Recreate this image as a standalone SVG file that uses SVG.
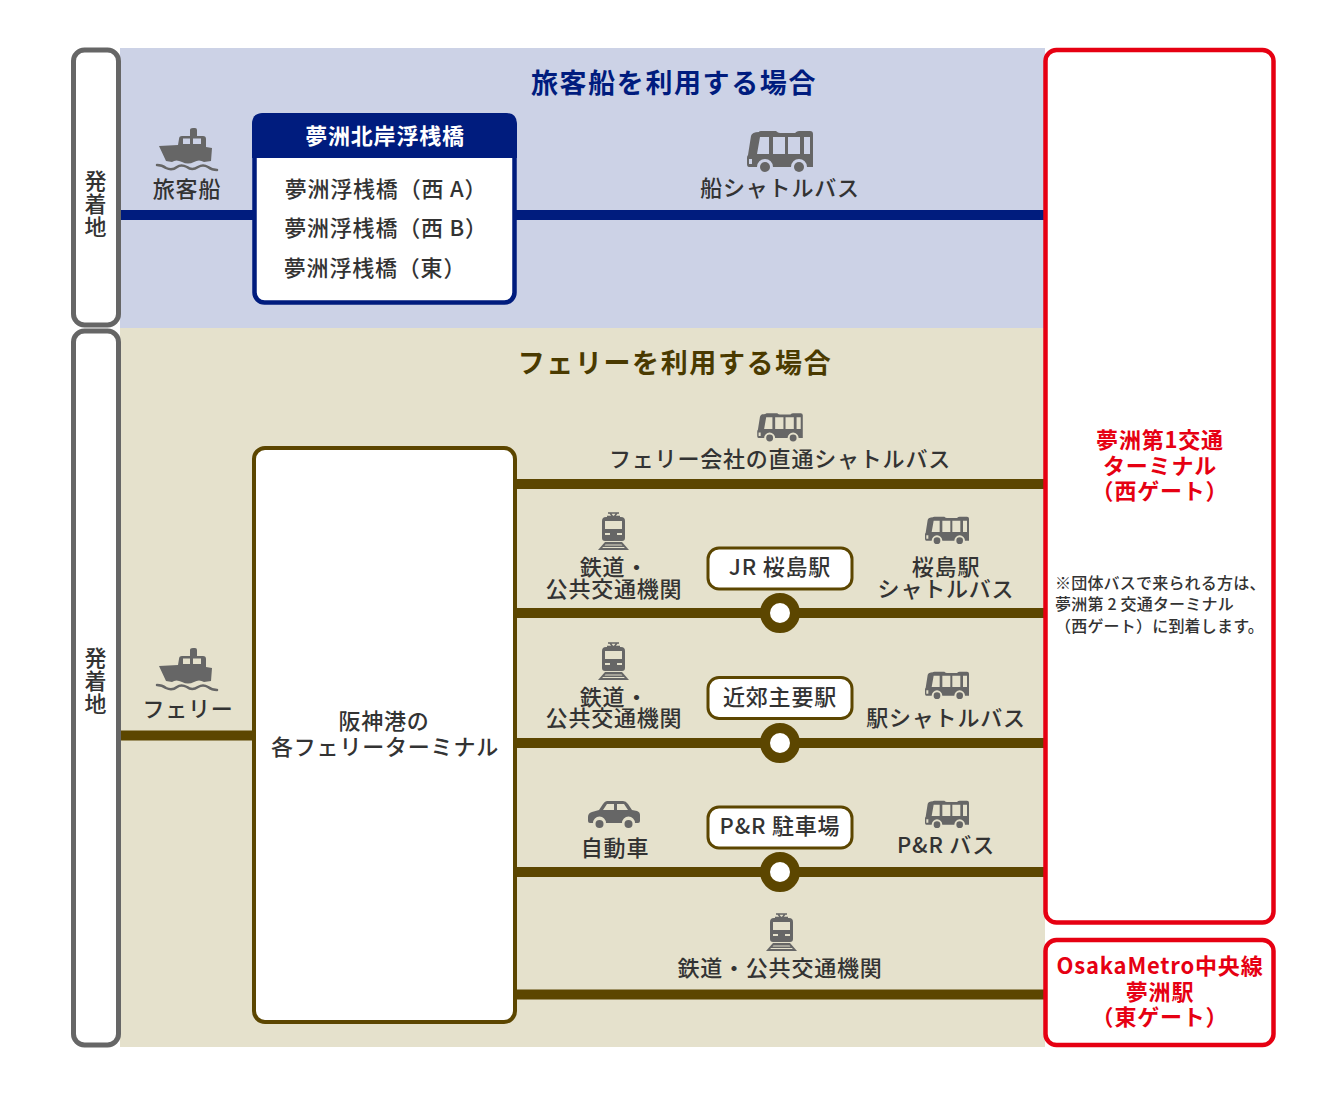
<svg xmlns="http://www.w3.org/2000/svg" xmlns:xlink="http://www.w3.org/1999/xlink" width="1330" height="1095" viewBox="0 0 1330 1095">
<style>
text{font-family:"Noto Sans CJK JP","Noto Sans",sans-serif;font-weight:500;fill:#333;font-size:22px;letter-spacing:.8px;text-anchor:middle}
.t{font-size:27px;font-weight:700;letter-spacing:1.6px}
.b{fill:#001c7e}.g{fill:#4a3a00}
.w{fill:#fff;font-weight:700}
.r{fill:#e60012;font-weight:700}
.n{font-size:16px;letter-spacing:.2px;text-anchor:start}
.pill{fill:#fff;stroke:#666;stroke-width:5}
.redbox{fill:#fff;stroke:#e60012;stroke-width:4.5}
.bl{stroke:#001c7e;stroke-width:10;fill:none}
.br{stroke:#5c4600;stroke-width:10;fill:none}
.lab{fill:#fff;stroke:#5c4600;stroke-width:3}
.ring{fill:#fff;stroke:#5c4600;stroke-width:10}
.ic{fill:#666}
</style>
<defs>
<symbol id="bus" viewBox="0 0 66 42" overflow="visible">
<path class="ic" fill-rule="evenodd" d="M12,2Q12,1 14,1L29,1Q31,3 33,3L48,3Q50,1 52,1L63,1Q66,1 66,4L66,37L60,37A8,8 0 0 0 44,37L26,37A8,8 0 0 0 10,37L2,37Q0,37 0,34L0,28Q0,26 1,25L4,6Q5,2 12,2ZM13,7L10,24L22,24L22,7ZM26,7L26,24L38,24L38,7ZM41,7L41,24L53,24L53,7ZM57,7L57,24L63,24L63,7ZM2,29L2,34L5,34L5,29Z"/>
<circle class="ic" cx="18" cy="37" r="5"/><circle class="ic" cx="52" cy="37" r="5"/>
</symbol>
<symbol id="ship" viewBox="0 0 62 44" overflow="visible">
<path class="ic" fill-rule="evenodd" d="M34,8L34,2Q34,0 37,0L39,0Q41,0 41,2L41,8L47,8Q50,8 50,11L50,19L56,20L55,33L48,34Q43,31 38,34Q32,37 26,34Q20,31 16,34L10,33L3,18L22,17L23,11Q23,8 26,8ZM27,10.500L27,16L34,16L34,10.500ZM37,10.500L37,16L45,16L45,10.500Z"/>
<path fill="none" stroke="#666" stroke-width="2.500" stroke-linecap="round" d="M1,37Q6,37 10,40Q16,43 21,39Q25,36 31,39Q36,43 42,39Q47,36 52,39Q56,42 61,42"/>
</symbol>
<symbol id="train" viewBox="0 0 31 38" overflow="visible">
<path fill="none" stroke="#666" stroke-width="1.500" d="M10,1L21,1M9,4.500L22,4.500M12,1L15,5M19,1L16,5"/>
<path class="ic" fill-rule="evenodd" d="M8,5L23,5Q27,5 27,9L27,26Q27,29 24,29L7,29Q4,29 4,26L4,9Q4,5 8,5ZM7,9L7,17L24,17L24,9ZM7,21L7,23L12,23L12,21ZM19,21L19,23L24,23L24,21Z"/>
<path class="ic" fill-rule="evenodd" d="M7,30L24,30L31,38L0,38ZM7.500,32.500L6.500,33.500L24.500,33.500L23.500,32.500ZM5,35L4.200,36L26.800,36L26,35Z"/>
</symbol>
<symbol id="car" viewBox="0 0 52 27" overflow="visible">
<path class="ic" fill-rule="evenodd" d="M19,0L35,0Q38,0 40,3L44,9L49,10Q52,11 52,14L52,20Q52,22 50,22L47,22A6.500,6.500 0 0 0 34,22L18,22A6.500,6.500 0 0 0 5,22L2,22Q0,22 0,20L0,16Q0,12 4,11L11,9L15,3Q17,0 19,0ZM19,3L15,9L26,9L26,3ZM29,3L29,9L40,9L36,3Z"/>
<circle class="ic" cx="11.500" cy="23" r="4"/><circle class="ic" cx="40.500" cy="23" r="4"/>
</symbol>
</defs>

<g id="panels">
<rect x="120" y="48" width="925" height="280" fill="#ccd2e6"/>
<rect x="120" y="328" width="925" height="719" fill="#e5e1cc"/>
</g>

<g id="connectors">
<path class="bl" d="M120,215H254M515,215H1045"/>
<path class="br" d="M120,735.500H254M515,484H1045M515,613H1045M515,743H1045M515,872H1045M515,994.500H1045"/>
</g>

<g id="origin-cruise">
<rect class="pill" x="73.500" y="50" width="45" height="275" rx="11"/>
<text x="96" y="189">発</text><text x="96" y="212">着</text><text x="96" y="235">地</text>
</g>
<g id="origin-ferry">
<rect class="pill" x="73.500" y="331" width="45" height="714" rx="11"/>
<text x="96" y="666">発</text><text x="96" y="689">着</text><text x="96" y="712">地</text>
</g>

<g id="title-cruise"><text class="t b" x="674" y="93">旅客船を利用する場合</text></g>
<g id="title-ferry"><text class="t g" x="675" y="373">フェリーを利用する場合</text></g>

<g id="mode-cruise">
<use href="#ship" x="156" y="128" width="62" height="44"/>
<text x="187" y="197">旅客船</text>
</g>
<g id="mode-ferry">
<use href="#ship" x="156" y="648" width="62" height="44"/>
<text x="188" y="717">フェリー</text>
</g>

<g id="pier">
<rect x="254.500" y="115.500" width="260" height="187" rx="10" fill="#fff" stroke="#001c7e" stroke-width="4.500"/>
<path fill="#001c7e" d="M252,158V124Q252,113 263,113H506Q517,113 517,124V158Z"/>
<text class="w" x="385" y="144">夢洲北岸浮桟橋</text>
<text x="386" y="197">夢洲浮桟橋（西 A）</text>
<text x="386" y="236">夢洲浮桟橋（西 B）</text>
<text x="375" y="276">夢洲浮桟橋（東）</text>
</g>

<g id="ship-shuttle">
<use href="#bus" x="747" y="130" width="66" height="42"/>
<text x="780" y="196">船シャトルバス</text>
</g>

<g id="ferry-terminals">
<rect x="254" y="448" width="261" height="574" rx="11" fill="#fff" stroke="#5c4600" stroke-width="4"/>
<text x="384" y="729">阪神港の</text>
<text x="385" y="755">各フェリーターミナル</text>
</g>

<g id="direct-shuttle">
<use href="#bus" x="757" y="412.500" width="46" height="29"/>
<text x="780" y="467">フェリー会社の直通シャトルバス</text>
</g>

<g id="jr-rail">
<use href="#train" x="598" y="512" width="31" height="38"/>
<text x="614" y="575">鉄道・</text>
<text x="614" y="597">公共交通機関</text>
</g>
<g id="jr-station">
<rect class="lab" x="708" y="548" width="144" height="41" rx="11"/>
<text x="780" y="575">JR 桜島駅</text>
<circle class="ring" cx="780" cy="613" r="15"/>
</g>
<g id="jr-shuttle">
<use href="#bus" x="924" y="516" width="46" height="28"/>
<text x="946" y="575">桜島駅</text>
<text x="946" y="597">シャトルバス</text>
</g>

<g id="city-rail">
<use href="#train" x="598" y="642" width="31" height="38"/>
<text x="614" y="705">鉄道・</text>
<text x="614" y="726">公共交通機関</text>
</g>
<g id="city-station">
<rect class="lab" x="708" y="677.500" width="144" height="41" rx="11"/>
<text x="780" y="705">近郊主要駅</text>
<circle class="ring" cx="780" cy="743" r="15"/>
</g>
<g id="city-shuttle">
<use href="#bus" x="924" y="671" width="46" height="28"/>
<text x="946" y="726">駅シャトルバス</text>
</g>

<g id="car-mode">
<use href="#car" x="588" y="801" width="52" height="27"/>
<text x="615" y="856">自動車</text>
</g>
<g id="pr-station">
<rect class="lab" x="708" y="807" width="144" height="41" rx="11"/>
<text x="780" y="834">P&amp;R 駐車場</text>
<circle class="ring" cx="780" cy="872" r="15"/>
</g>
<g id="pr-bus">
<use href="#bus" x="924" y="800" width="46" height="28"/>
<text x="946" y="853">P&amp;R バス</text>
</g>

<g id="direct-rail">
<use href="#train" x="766" y="913" width="31" height="38"/>
<text x="780" y="976">鉄道・公共交通機関</text>
</g>

<g id="terminal-west">
<rect class="redbox" x="1045.500" y="50" width="228" height="872.500" rx="11"/>
<text class="r" x="1160" y="448">夢洲第1交通</text>
<text class="r" x="1160" y="474">ターミナル</text>
<text class="r" x="1160" y="499">（西ゲート）</text>
<text class="n" x="1055" y="589">※団体バスで来られる方は、</text>
<text class="n" x="1055" y="610">夢洲第 2 交通ターミナル</text>
<text class="n" x="1055" y="632">（西ゲート）に到着します。</text>
</g>
<g id="station-east">
<rect class="redbox" x="1045.500" y="940" width="228" height="105" rx="11"/>
<text class="r" x="1160" y="974">OsakaMetro中央線</text>
<text class="r" x="1160" y="1000">夢洲駅</text>
<text class="r" x="1160" y="1025">（東ゲート）</text>
</g>
</svg>
